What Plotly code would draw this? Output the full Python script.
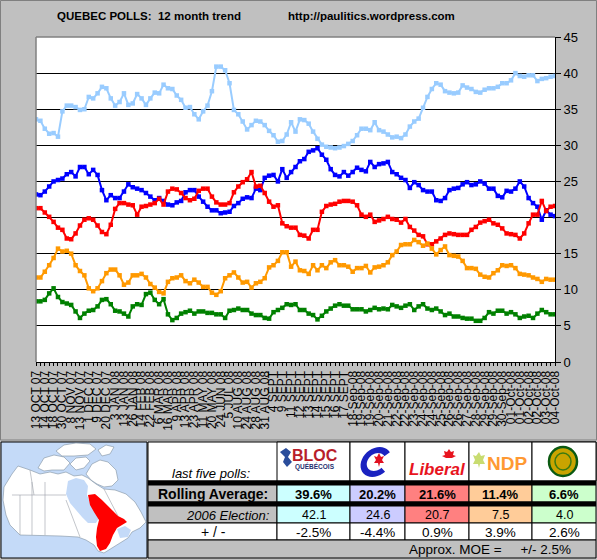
import math
import plotly.graph_objects as go

# ---------------- data ----------------
labels = ["13 OCT 07","14 OCT 07","18 OCT 07","30 OCT 07","8 NOV 07","13 NOV 07","1 DEC 07","9 DEC 07",
          "20 DEC 07","3 JAN 08","13 JAN 08","26 JAN 08","14 FEB 08","22 FEB 08","6 MAR 08","16 MAR 08",
          "9 APR 08","13 APR 08","23 APR 08","11 MAY 08","20 MAY 08","24 JUN 08","5 JUL 08","10 AUG 08",
          "24 AUG 08","28 AUG 08","31 AUG 08","4 SEPT","9 SEPT","11 SEPT","12 SEPT","13 SEPT","14 SEPT",
          "15 SEPT","16 SEPT","17 SEPT","18-Sep-08","19-Sep-08","19-Sep-08","20-Sep-08","21-Sep-08",
          "22-Sep-08","22-Sep-08","23-Sep-08","24-Sep-08","24-Sep-08","25-Sep-08","26-Sep-08","26-Sep-08",
          "27-Sep-08","28-Sep-08","29-Sep-08","29-Sep-08","30-Sep-08","01-Oct-08","01-Oct-08","02-Oct-08",
          "02-Oct-08","03-Oct-08","04-Oct-08"]

bloc = [33.6,33.4,32.3,31.6,31.7,31.2,34.7,35.5,35.5,35.3,
        34.9,35.0,36.7,36.5,37.2,38.1,37.9,36.5,35.5,36.0,
        37.2,35.6,35.8,37.1,36.5,35.6,36.5,37.3,37.2,38.4,
        37.9,37.8,36.9,36.3,35.2,35.3,34.3,33.6,34.7,35.5,
        37.5,40.9,40.9,40.4,38.6,34.9,34.3,33.3,32.2,32.8,
        33.4,33.3,32.8,32.0,31.4,30.5,30.6,31.5,33.2,31.9,
        33.6,33.5,33.0,31.9,30.9,30.1,29.8,29.7,29.6,29.7,
        29.9,30.2,30.6,31.4,32.3,32.3,32.1,33.2,32.1,31.9,
        31.5,31.1,31.2,31.0,31.5,32.6,33.3,33.7,35.2,36.7,
        37.8,38.6,38.4,37.5,37.3,37.2,37.3,38.3,38.0,37.8,
        37.4,37.3,37.7,37.9,37.9,38.1,38.6,38.6,39.0,40.0,
        39.6,39.5,39.7,39.7,38.9,39.2,39.3,39.5,39.6]

cpc = [23.2,23.1,23.6,24.3,25.0,25.2,25.4,26.0,26.3,25.7,
       27.0,27.0,26.0,26.6,25.9,23.8,22.4,23.1,22.7,22.7,
       23.6,24.6,24.2,24.0,23.8,23.4,22.9,22.4,22.7,22.3,
       21.8,21.7,22.1,22.3,23.5,23.8,23.8,22.9,22.2,21.5,
       21.0,21.0,20.6,20.7,20.8,21.6,22.0,22.6,22.8,22.7,
       24.0,23.8,25.5,25.8,25.9,25.0,26.7,25.5,26.3,27.0,
       27.8,28.1,29.1,29.3,29.6,28.7,28.0,26.7,25.9,25.7,
       26.3,25.8,26.3,26.9,26.6,26.4,27.7,27.0,27.4,27.5,
       27.7,26.3,26.0,25.5,25.2,24.1,24.9,24.5,23.8,23.6,
       23.6,22.4,22.3,22.7,23.8,24.0,24.1,24.6,24.9,24.5,
       24.6,25.0,24.7,24.0,24.0,23.0,22.8,23.7,23.6,24.0,
       25.0,24.3,22.7,22.0,21.5,19.7,21.0,20.4,20.2]

lib = [21.3,21.3,20.7,20.1,19.4,18.6,18.3,17.1,17.0,17.8,
       18.9,19.7,19.9,19.7,18.9,18.0,17.7,19.0,21.2,22.0,
       22.0,21.8,21.7,20.4,21.5,21.6,21.8,22.0,22.6,21.8,
       23.6,24.0,23.9,23.4,22.7,22.4,22.6,23.7,24.0,24.0,
       22.9,22.1,21.8,21.8,22.0,23.5,24.3,24.9,25.3,26.3,
       24.3,24.4,23.4,22.2,21.5,21.7,19.2,18.8,18.6,18.6,
       17.6,17.5,17.1,18.3,18.3,20.8,21.6,21.8,21.9,22.2,
       22.3,22.3,22.2,21.7,20.4,20.1,20.4,19.4,19.6,19.8,
       20.1,19.8,19.7,19.3,19.8,18.7,18.2,17.6,17.4,16.3,
       16.3,16.7,17.1,17.6,17.8,17.7,17.6,17.6,17.6,18.3,
       18.7,19.3,19.5,19.7,19.2,19.0,18.5,17.8,17.7,17.6,
       17.1,17.8,19.2,20.4,20.4,22.3,20.9,21.5,21.6]

ndp = [11.7,11.7,12.5,13.4,14.4,15.7,15.3,15.4,15.0,13.4,
       12.6,12.0,10.2,9.8,10.2,11.2,12.3,12.8,12.8,12.0,
       10.7,11.0,12.0,12.0,12.2,11.7,10.8,10.3,9.7,9.5,
       11.1,11.6,11.7,12.0,11.2,10.9,11.4,11.0,10.4,10.4,
       9.6,9.3,9.8,11.6,12.0,12.4,11.7,11.0,11.1,10.3,
       10.9,11.1,11.6,13.1,13.4,14.0,15.2,15.2,13.2,13.9,
       12.7,12.6,12.2,13.4,12.7,13.4,13.0,13.8,14.1,13.4,
       13.4,13.2,12.5,13.0,13.0,13.3,12.4,13.1,13.2,13.4,
       13.8,14.8,15.3,16.2,16.3,16.3,16.9,16.6,16.1,16.4,
       15.7,14.9,15.5,16.0,14.8,14.7,14.6,14.0,13.0,13.0,
       12.9,12.1,11.8,11.7,12.3,12.7,13.4,13.3,13.4,13.0,
       12.2,12.1,12.0,11.7,11.5,11.1,11.5,11.4,11.4]

green = [8.4,8.4,8.6,9.5,10.2,9.0,8.3,8.1,7.9,7.0,
         6.1,6.7,7.1,7.2,7.7,8.6,8.7,8.0,7.1,7.0,
         6.7,6.3,7.7,8.0,7.9,9.4,9.6,8.6,8.0,8.7,
         6.6,5.8,6.1,6.7,6.9,7.1,6.7,7.0,7.0,6.8,
         6.8,6.6,6.6,6.1,7.1,7.2,7.4,7.2,7.2,6.7,
         6.5,6.5,6.1,6.0,6.9,7.2,7.5,8.0,7.9,8.0,
         7.2,7.2,6.7,6.5,5.9,6.4,7.0,7.4,7.8,8.0,
         7.8,7.8,7.3,7.3,7.3,7.0,7.2,7.5,7.3,7.4,
         7.3,7.9,7.7,7.5,7.8,8.0,7.2,7.7,8.0,7.4,
         7.2,7.4,7.0,6.5,6.7,6.3,6.3,6.1,6.0,6.0,
         5.7,5.7,6.1,6.9,6.7,7.1,7.1,6.7,6.9,6.6,
         6.1,6.3,6.4,6.1,6.7,7.2,6.9,6.6,6.6]

y_ticks = [0, 5, 10, 15, 20, 25, 30, 35, 40, 45]

parties = ["BLOC", "CPC", "LIB", "NDP", "GREEN"]
rolling_avg = [39.6, 20.2, 21.6, 11.4, 6.6]
election_2006 = [42.1, 24.6, 20.7, 7.5, 4.0]
change = [-2.5, -4.4, 0.9, 3.9, 2.6]
moe = 2.5

series = [("Bloc", bloc, "#99CCFF"), ("CPC", cpc, "#0000FF"), ("Liberal", lib, "#FF0000"),
          ("NDP", ndp, "#FF9900"), ("Green", green, "#008000")]
cell_colors = ["#CCFFFF", "#CCCCFF", "#FF8080", "#FFCC99", "#CCFFCC"]

# ---------------- geometry helpers ----------------
W, H = 597, 560
FONT = "Liberation Sans, Arial, sans-serif"


def px(x):
    return x / W


def py(y):
    return 1 - y / H


shapes = []
annotations = []


def rect(x0, y0, x1, y1, fill=None, line="black", lw=1):
    shapes.append(dict(type="rect", xref="paper", yref="paper", x0=px(x0), x1=px(x1),
                       y0=py(y1), y1=py(y0), fillcolor=fill if fill else "rgba(0,0,0,0)",
                       line=dict(color=line, width=lw if line else 0), layer="above"))


def poly(pts, fill, line=None, lw=0):
    d = "M " + " L ".join(f"{px(x):.5f},{py(y):.5f}" for x, y in pts) + " Z"
    shapes.append(dict(type="path", xref="paper", yref="paper", path=d, fillcolor=fill,
                       line=dict(color=line if line else fill, width=lw), layer="above"))


def seg(pts, color, lw):
    d = "M " + " L ".join(f"{px(x):.5f},{py(y):.5f}" for x, y in pts)
    shapes.append(dict(type="path", xref="paper", yref="paper", path=d,
                       line=dict(color=color, width=lw), layer="above"))


def text(x, y, s, size=12, color="black", bold=False, italic=False, anchor="center", family=FONT):
    if bold:
        s = "<b>" + s + "</b>"
    if italic:
        s = "<i>" + s + "</i>"
    annotations.append(dict(x=px(x), y=py(y), xref="paper", yref="paper", text=s, showarrow=False,
                            xanchor=anchor, yanchor="middle",
                            font=dict(family=family, size=size, color=color)))


# ---------------- figure ----------------
fig = go.Figure()
xs = list(range(len(bloc)))
for name, vals, col in series:
    fig.add_trace(go.Scatter(x=xs, y=vals, mode="lines+markers", name=name,
                             line=dict(color=col, width=2),
                             marker=dict(symbol="square", size=4.5, color=col),
                             hoverinfo="skip"))

ticktext = []
for i in xs:
    ticktext.append(labels[i // 2] if i % 2 == 0 else "")

x_dom = [px(36), px(555)]
y_dom = [py(362), py(37)]

fig.update_layout(
    width=W, height=H, autosize=False,
    margin=dict(l=0, r=0, t=0, b=0, pad=0),
    paper_bgcolor="#C0C0C0", plot_bgcolor="white",
    showlegend=False,
    font=dict(family=FONT, color="black"),
    xaxis=dict(domain=x_dom, range=[0, len(bloc) - 1], tickmode="array", tickvals=xs,
               ticktext=ticktext, tickangle=-90, tickfont=dict(size=12, family=FONT, color="black"),
               ticks="outside", ticklen=3, tickcolor="black", tickwidth=1, automargin=False,
               showline=True, linecolor="black", linewidth=1, showgrid=False, zeroline=False),
    yaxis=dict(domain=y_dom, range=[0, 45], side="right", tickmode="array", tickvals=y_ticks,
               ticks="outside", ticklen=5, tickcolor="black", tickwidth=1, automargin=False,
               tickfont=dict(size=13, family=FONT, color="black"),
               showline=True, linecolor="black", linewidth=1,
               showgrid=True, gridcolor="black", gridwidth=1, zeroline=False),
)

# plot area gray border (left, top)
shapes.append(dict(type="line", xref="x domain", yref="y domain", x0=0, x1=0, y0=0, y1=1,
                   line=dict(color="#808080", width=1.5), layer="above"))
shapes.append(dict(type="line", xref="x domain", yref="y domain", x0=0, x1=1, y0=1, y1=1,
                   line=dict(color="#808080", width=1.5), layer="above"))

# outer frame of the chart panel
rect(0.5, 0.5, 596.5, 440, None, "#808080", 1)

# titles
text(55, 16, "QUEBEC POLLS:  12 month trend", size=11.5, bold=True, anchor="left")
text(286, 16, "http://paulitics.wordpress.com", size=11.5, bold=True, anchor="left")

# ---------------- map ----------------
WATER = "#C4DAF8"
rect(1, 442, 147, 558, WATER, "black", 1)
mainland = [(4, 487), (12, 474), (18, 466), (30, 470), (40, 474), (50, 472), (58, 474), (66, 472),
            (74, 476), (82, 475), (88, 478), (96, 484), (104, 489), (115, 490), (126, 494),
            (135, 502), (141, 512), (146, 522), (140, 528), (132, 532), (128, 538), (120, 543),
            (112, 548), (104, 553), (98, 551), (94, 545), (86, 540), (78, 537), (60, 536), (20, 535),
            (10, 525), (6, 515), (3, 500)]
poly(mainland, "white", "#8090A0", 0.6)
hudson = [(68, 481), (76, 478), (84, 480), (88, 486), (87, 495), (90, 503), (95, 510), (99, 518),
          (96, 523), (88, 523), (82, 517), (76, 510), (70, 503), (66, 494)]
poly(hudson, WATER)
gulf = [(117, 529), (125, 526), (131, 530), (128, 537), (120, 538)]
for line_pts in ([(20, 535), (20, 495)], [(32, 535), (32, 482)], [(45, 535), (45, 482)],
                 [(12, 495), (66, 495)], [(30, 470), (34, 495)], [(66, 500), (80, 537)],
                 [(104, 489), (118, 516)]):
    seg(line_pts, "#9AA0A8", 0.6)
quebec = [(88, 495), (95, 494), (102, 500), (108, 506), (113, 511), (118, 516), (124, 519),
          (127, 522), (122, 525), (117, 528), (113, 535), (110, 543), (106, 549), (100, 551),
          (97, 546), (96, 537), (97, 528), (99, 520), (94, 512), (90, 505)]
poly(quebec, "#FF0000")
poly(gulf, WATER)
islands = [
    [(86, 474), (92, 464), (100, 460), (108, 462), (116, 470), (118, 480), (112, 486), (104, 487),
     (97, 484), (91, 480)],
    [(38, 468), (44, 458), (54, 455), (64, 457), (70, 463), (64, 470), (52, 470), (44, 471)],
    [(56, 451), (64, 445), (76, 443), (90, 444), (96, 449), (88, 455), (74, 456), (62, 456)],
    [(70, 464), (76, 458), (86, 457), (90, 461), (84, 468), (76, 470)],
    [(98, 450), (106, 445), (114, 447), (110, 454), (102, 456)],
]
for isl in islands:
    poly(isl, "white", "#8090A0", 0.6)

# ---------------- table ----------------
cols = [148, 277, 350, 405, 469, 532, 596]
rect(148, 442, 596, 481, "white", "black", 1)
for i in range(1, 6):
    rect(cols[i], 442, cols[i + 1], 481, "white", "black", 1)
rect(148, 481, 596, 485, "black", "black", 1)
rect(148, 485, 277, 502, "#C0C0C0", "black", 1)
for i in range(5):
    rect(cols[i + 1], 485, cols[i + 2], 502, cell_colors[i], "black", 1)
rect(148, 502, 596, 506, "black", "black", 1)
rect(148, 506, 277, 523, "#C0C0C0", "black", 1)
for i in range(5):
    rect(cols[i + 1], 506, cols[i + 2], 523, cell_colors[i], "black", 1)
rect(148, 523, 277, 540, "white", "black", 1)
for i in range(5):
    rect(cols[i + 1], 523, cols[i + 2], 540, "white", "black", 1)
rect(148, 540, 596, 558, "#C0C0C0", "black", 1)

text(252, 473, "last five polls:", size=13, italic=True, anchor="right")
text(213, 494, "Rolling Average:", size=14, bold=True)
text(272, 515, "2006 Election:", size=13, italic=True, anchor="right")
text(213, 532, "+ / -", size=14)
centers = [(cols[i + 1] + cols[i + 2]) / 2 for i in range(5)]
for i in range(5):
    text(centers[i], 494, f"{rolling_avg[i]:.1f}%", size=13, bold=True)
    text(centers[i], 515, f"{election_2006[i]:.1f}", size=12.5)
    text(centers[i], 532, f"{change[i]:.1f}%", size=13.5)
text(407, 549, f"Approx. MOE =     +/- {moe}%", size=13.5, anchor="left")

# logos
poly([(280, 452), (286, 448), (291, 452), (288, 457), (292, 462), (287, 467), (283, 462), (285, 457)],
     "#2A4D9B")
text(315, 455, "BLOC", size=16, bold=True, color="#B81E2A")
text(315, 466, "QUÉBÉCOIS", size=6.5, bold=True, color="#1F2F6F")

# Conservative "C" drawn as a thick open ring
cx, cy, r_out, r_in = 376.0, 462.0, 15.0, 9.0
outer = []
inner = []
for k in range(0, 29):
    a = math.radians(40 + k * 10)
    outer.append((cx + r_out * math.cos(a) + 0.15 * (cy - (cy - r_out * math.sin(a))) * 0,
                  cy - r_out * math.sin(a)))
    inner.append((cx + r_in * math.cos(a), cy - r_in * math.sin(a)))
c_pts = outer + inner[::-1]
c_pts = [(x + 0.25 * (cy - y), y) for x, y in c_pts]
poly(c_pts, "#1A22C0")
poly([(377, 457), (379, 453), (381, 457), (384, 456), (382, 460), (384, 463), (380, 463),
      (379, 467), (378, 463), (374, 463), (376, 460), (374, 456)], "#E01020")

text(437, 469, "Liberal", size=17, bold=True, italic=True, color="#E8141E")
poly([(449, 449), (451, 452), (454, 451), (453, 455), (456, 456), (452, 458), (446, 458),
      (442, 456), (445, 455), (444, 451), (447, 452)], "#E8141E")
poly([(476, 456), (479, 452), (481, 456), (485, 455), (483, 460), (485, 464), (480, 464),
      (479, 468), (478, 464), (473, 464), (475, 460), (473, 455)], "#C8DC70")
text(507, 463, "NDP", size=19, bold=True, color="#FF9933")
shapes.append(dict(type="circle", xref="paper", yref="paper", x0=px(549), x1=px(577),
                   y0=py(476), y1=py(447), fillcolor="#C9A400",
                   line=dict(color="#0B5A12", width=2.5), layer="above"))
shapes.append(dict(type="circle", xref="paper", yref="paper", x0=px(555), x1=px(571),
                   y0=py(470), y1=py(453), fillcolor="rgba(0,0,0,0)",
                   line=dict(color="#3A7A10", width=1.5), layer="above"))

fig.update_layout(shapes=shapes, annotations=annotations)
fig.write_html("out.html", config={"displayModeBar": False})

# remove the browser's default page margin so the figure sits at the window origin
with open("out.html", "r", encoding="utf-8") as f:
    html = f.read()
html = html.replace("<head>", "<head><style>html,body{margin:0;padding:0;overflow:hidden;}</style>", 1)
with open("out.html", "w", encoding="utf-8") as f:
    f.write(html)
